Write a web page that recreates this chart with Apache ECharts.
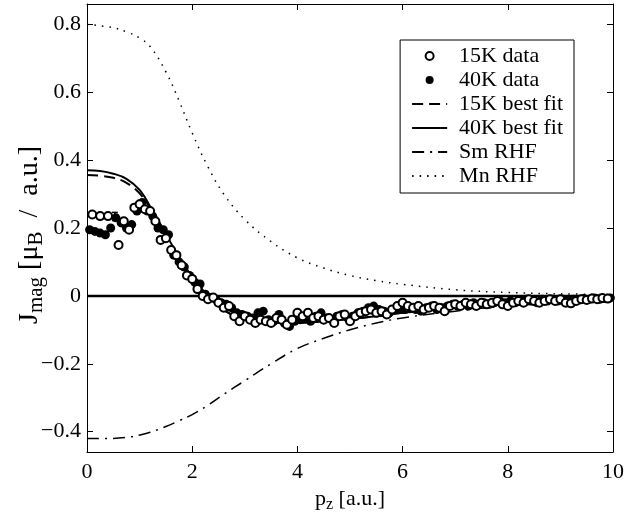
<!DOCTYPE html>
<html>
<head>
<meta charset="utf-8">
<script src="https://cdn.jsdelivr.net/npm/echarts@6/dist/echarts.min.js"></script>
<style>html,body{margin:0;padding:0;background:#fff;}#c{width:641px;height:512px;}</style>
</head>
<body>
<div id="c"></div>
<script>
// ---- data ----
var data15K = [
[0.1,0.24],[0.25,0.235],[0.4,0.235],[0.6,0.15],[0.7,0.22],[0.8,0.195],[0.9,0.26],[1.0,0.27],[1.1,0.255],[1.2,0.25],
[1.3,0.22],[1.4,0.165],[1.5,0.17],[1.6,0.135],[1.7,0.12],[1.8,0.09],[1.9,0.06],[2.0,0.05],[2.1,0.02],[2.2,0.0],
[2.3,-0.01],[2.4,-0.005],[2.5,-0.02],[2.6,-0.035],[2.7,-0.03],[2.8,-0.06],[2.9,-0.075],[3.0,-0.06],[3.1,-0.07],[3.2,-0.08],
[3.3,-0.07],[3.4,-0.075],[3.5,-0.08],[3.6,-0.065],[3.7,-0.07],[3.8,-0.085],[3.9,-0.07],[4.0,-0.05],[4.1,-0.06],[4.2,-0.05],
[4.3,-0.065],[4.4,-0.06],[4.5,-0.07],[4.6,-0.065],[4.7,-0.08],[4.8,-0.06],[4.9,-0.055],[5.0,-0.075],[5.1,-0.06],[5.2,-0.05],
[5.3,-0.045],[5.4,-0.04],[5.5,-0.05],[5.6,-0.045],[5.7,-0.055],[5.8,-0.04],[5.9,-0.03],[6.0,-0.02],[6.1,-0.03],[6.2,-0.035],
[6.3,-0.03],[6.4,-0.04],[6.5,-0.035],[6.6,-0.03],[6.7,-0.035],[6.8,-0.045],[6.9,-0.03],[7.0,-0.025],[7.1,-0.03],[7.2,-0.02],
[7.3,-0.025],[7.4,-0.03],[7.5,-0.02],[7.6,-0.025],[7.7,-0.02],[7.8,-0.015],[7.9,-0.025],[8.0,-0.03],[8.1,-0.02],[8.2,-0.015],
[8.3,-0.02],[8.4,-0.01],[8.5,-0.015],[8.6,-0.02],[8.7,-0.015],[8.8,-0.01],[8.9,-0.015],[9.0,-0.01],[9.1,-0.02],[9.2,-0.022],
[9.3,-0.015],[9.4,-0.01],[9.5,-0.012],[9.6,-0.008],[9.7,-0.01],[9.8,-0.006],[9.9,-0.008]
];
var data40K = [
[0.05,0.195],[0.15,0.19],[0.25,0.185],[0.35,0.18],[0.45,0.20],[0.55,0.23],[0.65,0.215],[0.75,0.2],[0.85,0.21],[0.95,0.25],
[1.05,0.275],[1.15,0.25],[1.25,0.235],[1.35,0.2],[1.45,0.195],[1.55,0.18],[1.65,0.12],[1.75,0.10],[1.85,0.085],[1.95,0.06],
[2.05,0.04],[2.15,0.035],[2.25,0.005],[2.35,-0.005],[2.45,-0.01],[2.55,-0.02],[2.65,-0.025],[2.75,-0.035],[2.85,-0.05],[2.95,-0.055],
[3.05,-0.06],[3.15,-0.065],[3.25,-0.05],[3.35,-0.045],[3.45,-0.07],[3.55,-0.075],[3.65,-0.055],[3.75,-0.08],[3.85,-0.09],[3.95,-0.075],
[4.05,-0.07],[4.15,-0.065],[4.25,-0.075],[4.35,-0.06],[4.45,-0.05],[4.55,-0.065],[4.65,-0.07],[4.75,-0.06],[4.85,-0.055],[4.95,-0.065],
[5.05,-0.06],[5.15,-0.05],[5.25,-0.045],[5.35,-0.035],[5.45,-0.03],[5.55,-0.04],[5.65,-0.045],[5.75,-0.05],[5.85,-0.04],[5.95,-0.035],
[6.05,-0.04],[6.15,-0.035],[6.25,-0.04],[6.35,-0.045],[6.45,-0.035],[6.55,-0.03],[6.65,-0.04],[6.75,-0.035],[6.85,-0.03],[6.95,-0.025],
[7.05,-0.03],[7.15,-0.025],[7.25,-0.03],[7.35,-0.02],[7.45,-0.025],[7.55,-0.02],[7.65,-0.025],[7.75,-0.02],[7.85,-0.015],[7.95,-0.02],
[8.05,-0.015],[8.15,-0.02],[8.25,-0.015],[8.35,-0.01],[8.45,-0.015],[8.55,-0.02],[8.65,-0.01],[8.75,-0.015],[8.85,-0.01],[8.95,-0.015],
[9.05,-0.01],[9.15,-0.015],[9.25,-0.01],[9.35,-0.012],[9.45,-0.008],[9.55,-0.01],[9.65,-0.006],[9.75,-0.01],[9.85,-0.008],[9.95,-0.006]
];
var errBar = [[0.53, 0.222, 0.246]];
var fitP  = [0, 0.25, 0.5, 0.75, 1.0, 1.25, 1.5, 1.75, 2.0, 2.25, 2.5, 2.75, 3.0, 3.5, 4.0, 4.5, 5.0, 5.5, 6.0, 7.0, 8.0, 9.0, 10.0];
var fit40 = [0.37, 0.368, 0.36, 0.345, 0.312, 0.25, 0.182, 0.114, 0.056, 0.008, -0.03, -0.055, -0.07, -0.08, -0.08, -0.075, -0.068, -0.06, -0.05, -0.035, -0.022, -0.014, -0.009];
var fit15 = [0.356, 0.354, 0.348, 0.333, 0.302, 0.248, 0.181, 0.113, 0.055, 0.007, -0.03, -0.055, -0.07, -0.08, -0.08, -0.075, -0.068, -0.06, -0.05, -0.035, -0.022, -0.014, -0.009];
var rhfP  = [0, 0.5, 0.8, 1.0, 1.2, 1.5, 1.75, 2.0, 2.3, 2.6, 3.0, 3.5, 4.0, 4.5, 5.0, 5.5, 6.0, 7.0, 8.0, 9.0, 10.0];
var smRHF = [-0.42, -0.42, -0.416, -0.41, -0.402, -0.385, -0.368, -0.35, -0.322, -0.29, -0.25, -0.20, -0.155, -0.125, -0.10, -0.08, -0.065, -0.045, -0.03, -0.02, -0.013];
var mnRHF = [0.80, 0.79, 0.775, 0.76, 0.735, 0.66, 0.575, 0.48, 0.38, 0.30, 0.225, 0.16, 0.112, 0.082, 0.06, 0.045, 0.034, 0.018, 0.01, 0.006, 0.004];
var xTicks = [0, 2, 4, 6, 8, 10];
var yTicks = [-0.4, -0.2, 0, 0.2, 0.4, 0.6, 0.8];

function zip(xs, ys) { return xs.map(function (x, i) { return [x, ys[i]]; }); }

var FONT = 'Liberation Serif';
var chart = echarts.init(document.getElementById('c'), null, {renderer: 'canvas'});
var axisCommon = {
  axisLine: {show: true, onZero: false, lineStyle: {color: '#000', width: 1}},
  splitLine: {show: false}
};
var noSym = {opacity: 0};
var option = {
  backgroundColor: '#fff',
  animation: false,
  textStyle: {fontFamily: FONT, color: '#000'},
  grid: {left: 87, right: 28, top: 4, bottom: 60, containLabel: false, outerBoundsMode: 'none'},
  legend: {
    orient: 'vertical', right: 67, top: 40,
    backgroundColor: '#fff', borderColor: '#000', borderWidth: 1,
    padding: [5, 11, 6, 11], itemGap: 2, itemWidth: 35, itemHeight: 8,
    textStyle: {fontFamily: FONT, fontSize: 22, lineHeight: 22, color: '#000', padding: [0, 0, 0, 7]},
    data: [
      {name: '15K data'}, {name: '40K data'},
      {name: '15K best fit', itemStyle: noSym}, {name: '40K best fit', itemStyle: noSym},
      {name: 'Sm RHF', itemStyle: noSym}, {name: 'Mn RHF', itemStyle: noSym}
    ]
  },
  xAxis: [
    Object.assign({
      type: 'value', min: 0, max: 10, interval: 2,
      name: '{b|p}{s|z}{b| [a.u.]}', nameLocation: 'middle', nameGap: 28,
      nameTextStyle: {rich: {b: {fontFamily: FONT, fontSize: 22, color: '#000'}, s: {fontFamily: FONT, fontSize: 16, color: '#000', padding: [12, 0, 0, 0]}}},
      axisTick: {show: true, inside: true, length: 6, lineStyle: {color: '#000'}},
      axisLabel: {fontFamily: FONT, fontSize: 22, color: '#000', margin: 9}
    }, axisCommon),
    Object.assign({
      type: 'value', min: 0, max: 10, interval: 2, position: 'top',
      axisTick: {show: true, inside: true, length: 6, lineStyle: {color: '#000'}},
      axisLabel: {show: false}
    }, axisCommon)
  ],
  yAxis: [
    Object.assign({
      type: 'value', min: -0.46, max: 0.86,
      name: '{b|J}{s|mag}{b| [μ}{s|B}{b|  /  a.u.]}', nameLocation: 'middle', nameGap: 40, nameRotate: 90,
      nameMoveOverlap: false,
      nameTextStyle: {padding: [0, 14, 0, 0], rich: {b: {fontFamily: FONT, fontSize: 28, color: '#000'}, s: {fontFamily: FONT, fontSize: 21, color: '#000', padding: [14, 0, 0, 0]}}},
      axisTick: {show: true, inside: true, length: 6, lineStyle: {color: '#000'}, customValues: yTicks},
      axisLabel: {fontFamily: FONT, fontSize: 22, color: '#000', margin: 6, customValues: yTicks,
        formatter: function (v) { return v < 0 ? '\u2212' + String(Math.abs(v)) : String(v); }}
    }, axisCommon),
    Object.assign({
      type: 'value', min: -0.46, max: 0.86, position: 'right',
      axisTick: {show: true, inside: true, length: 6, lineStyle: {color: '#000'}, customValues: yTicks},
      axisLabel: {show: false, customValues: yTicks}
    }, axisCommon)
  ],
  series: [
    {name: 'zero', type: 'line', data: [[0, 0], [10, 0]], showSymbol: false, symbol: 'none',
      lineStyle: {color: '#000', width: 2.5}, z: 1, silent: true},
    {name: 'Mn RHF', type: 'line', data: zip(rhfP, mnRHF), smooth: 0.4, symbol: 'none',
      lineStyle: {color: '#000', width: 1.5, type: [1.5, 6]}, itemStyle: {color: '#000'}},
    {name: 'Sm RHF', type: 'line', data: zip(rhfP, smRHF), smooth: 0.4, symbol: 'none',
      lineStyle: {color: '#000', width: 1.5, type: [12, 6, 2, 6]}, itemStyle: {color: '#000'}},
    {name: '15K best fit', type: 'line', data: zip(fitP, fit15), smooth: 0.4, symbol: 'none',
      lineStyle: {color: '#000', width: 2, type: [11, 6]}, itemStyle: {color: '#000'}},
    {name: '40K best fit', type: 'line', data: zip(fitP, fit40), smooth: 0.4, symbol: 'none',
      lineStyle: {color: '#000', width: 2, type: 'solid'}, itemStyle: {color: '#000'}},
    {name: 'err', type: 'custom', data: errBar, silent: true, z: 5,
      renderItem: function (params, api) {
        var x = api.value(0), lo = api.coord([x, api.value(1)]), hi = api.coord([x, api.value(2)]);
        var w = 3;
        return {type: 'group', children: [
          {type: 'line', shape: {x1: lo[0], y1: lo[1], x2: hi[0], y2: hi[1]}, style: {stroke: '#000', lineWidth: 1.5}},
          {type: 'line', shape: {x1: lo[0] - w, y1: lo[1], x2: lo[0] + w, y2: lo[1]}, style: {stroke: '#000', lineWidth: 1.5}},
          {type: 'line', shape: {x1: hi[0] - w, y1: hi[1], x2: hi[0] + w, y2: hi[1]}, style: {stroke: '#000', lineWidth: 1.5}}
        ]};
      }},
    {name: '40K data', type: 'scatter', data: data40K, symbol: 'circle', symbolSize: 9,
      itemStyle: {color: '#000', opacity: 1}, z: 3},
    {name: '15K data', type: 'scatter', data: data15K, symbol: 'circle', symbolSize: 8,
      itemStyle: {color: '#fff', borderColor: '#000', borderWidth: 2, opacity: 1}, z: 4}
  ]
};
chart.setOption(option);
</script>
</body>
</html>
